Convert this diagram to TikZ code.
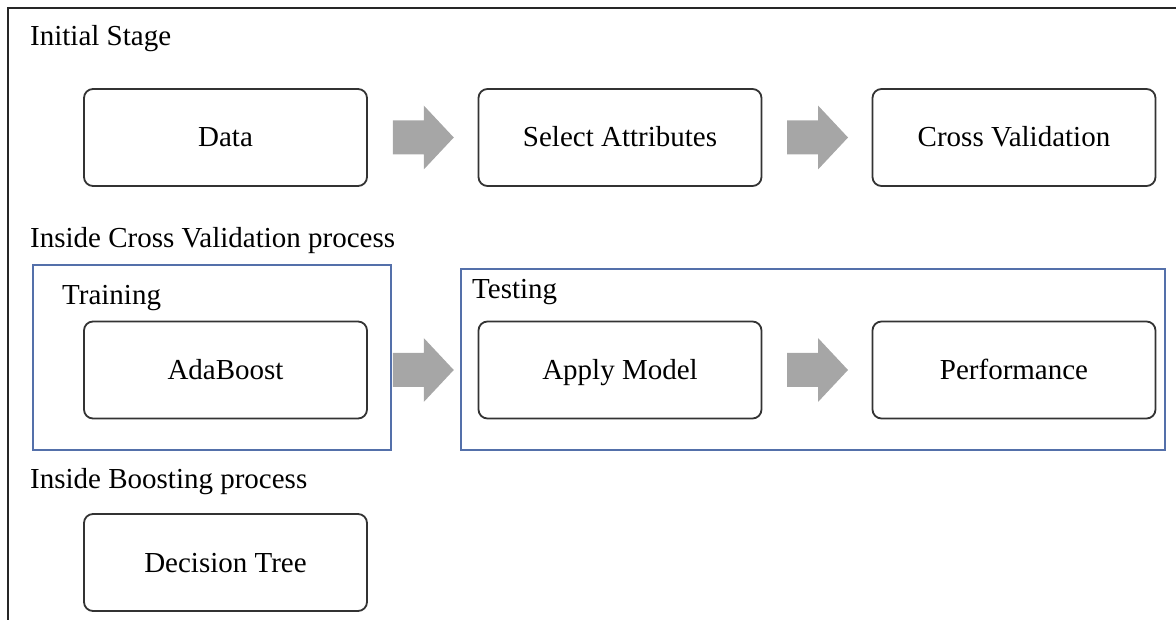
\documentclass[tikz,border=0pt]{standalone}
\usepackage{fontspec}
\setmainfont{Liberation Serif}
\usetikzlibrary{calc}
\definecolor{groupblue}{RGB}{84,112,170}
\begin{document}
\begin{tikzpicture}[x=1pt,y=-1pt,
  stepbox/.style={draw=black!80,line width=1.8pt,rounded corners=9pt,
    minimum width=283pt,minimum height=97pt,inner sep=0pt,
    text height=25pt,text depth=6pt,
    font=\fontsize{29}{33}\selectfont},
  groupbox/.style={draw=groupblue,line width=1.5pt},
  heading/.style={anchor=base west,inner sep=0pt,font=\fontsize{29}{33}\selectfont},
  flowarrow/.style={fill=black!35,draw=none}]
\useasboundingbox (0,0) rectangle (1176,620);
% frame
\draw[black!85,line width=1.5pt] (1176,8) -- (8,8) -- (8,620);

% headings
\node[heading] (h1) at (30,46) {Initial Stage};
\node[heading] (h2) at (30,248) {Inside Cross Validation process};
\node[heading] (h3) at (30,488) {Inside Boosting process};

% group frames
\draw[groupbox] (33,265) rectangle (391,450);
\draw[groupbox] (461,269) rectangle (1165,450);
\node[heading] (tr) at (62,305) {Training};
\node[heading] (te) at (472,299) {Testing};

% boxes
\node[stepbox] (data) at (225.5,137.5) {Data};
\node[stepbox] (sel) at (620,137.5) {Select Attributes};
\node[stepbox] (cv) at (1014,137.5) {Cross Validation};
\node[stepbox] (ada) at (225.5,370) {AdaBoost};
\node[stepbox] (app) at (620,370) {Apply Model};
\node[stepbox] (perf) at (1014,370) {Performance};
\node[stepbox] (dt) at (225.5,562.5) {Decision Tree};

% block arrows between boxes
\newcommand{\blockarrow}[2]{%
  \path ($(#1.east)!0.5!(#2.west)$) coordinate (m);
  \fill[flowarrow] ([shift={(-30,-17)}]m) -- ([shift={(1,-17)}]m) -- ([shift={(1,-32)}]m)
    -- ([shift={(31,0)}]m) -- ([shift={(1,32)}]m) -- ([shift={(1,17)}]m)
    -- ([shift={(-30,17)}]m) -- cycle;}
\blockarrow{data}{sel}
\blockarrow{sel}{cv}
\blockarrow{ada}{app}
\blockarrow{app}{perf}
\end{tikzpicture}
\end{document}
